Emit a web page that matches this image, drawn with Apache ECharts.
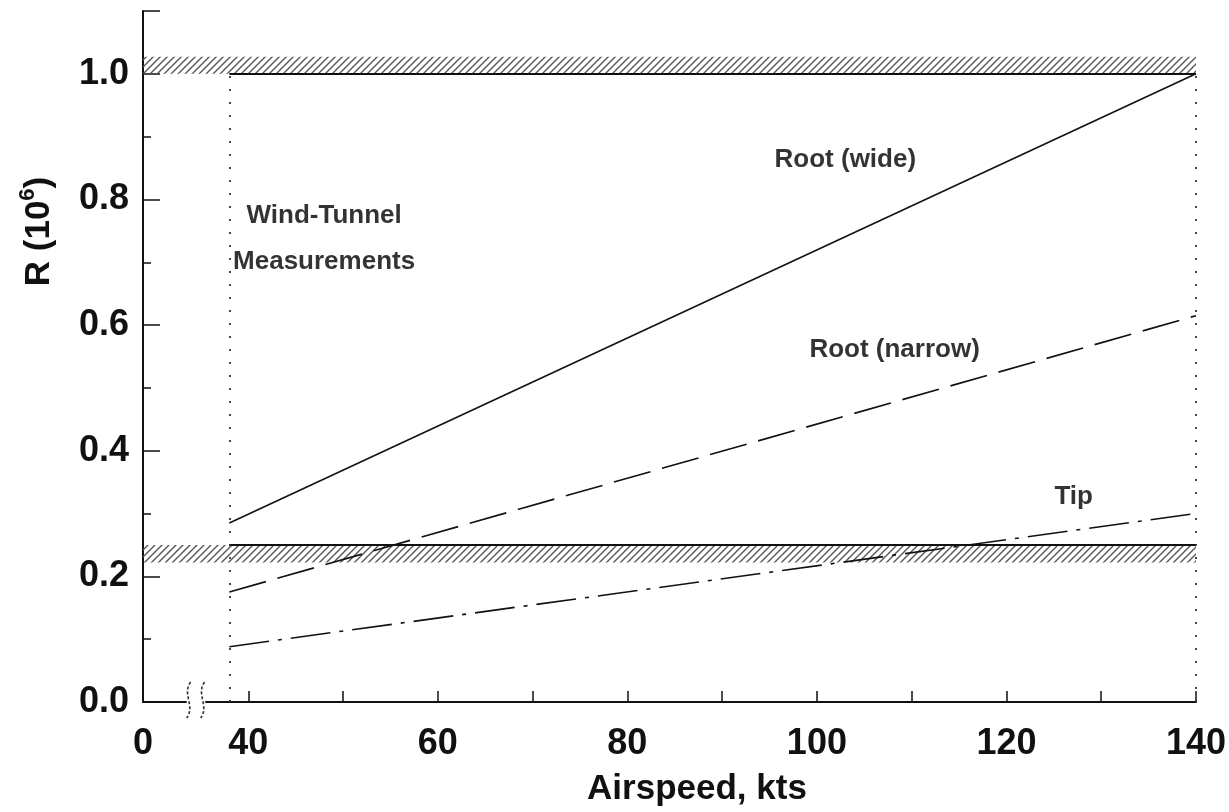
<!DOCTYPE html>
<html>
<head>
<meta charset="utf-8">
<script src="https://cdn.jsdelivr.net/npm/echarts@6/dist/echarts.min.js"></script>
<style>
html,body{margin:0;padding:0;background:#fff;}
#chart{width:1229px;height:812px;}
</style>
</head>
<body>
<div id="chart"></div>
<script>
// ---- data ----
const xRange = [38, 140];                 // wind-tunnel measurement range (kts)
const rootWide = [0.285, 1.0];            // R (10^6) at xRange ends
const rootNarrow = [0.175, 0.615];
const tip = [0.088, 0.30];
const upperLimit = 1.0;
const upperBand = [1.0, 1.027];
const lowerLimit = 0.25;
const lowerBand = [0.222, 0.25];
const xTicks = [0, 40, 60, 80, 100, 120, 140];
const xMinorTicks = [50, 70, 90, 110, 130];
const yTicks = [0.0, 0.2, 0.4, 0.6, 0.8, 1.0];
const annotations = [
  { name: 'Wind-Tunnel\nMeasurements', x: 48, y: 0.738 },
  { name: 'Root (wide)', x: 103, y: 0.863 },
  { name: 'Root (narrow)', x: 108.2, y: 0.56 },
  { name: 'Tip', x: 127.1, y: 0.326 }
];

function hatch() {
  const c = document.createElement('canvas');
  c.width = 7; c.height = 7;
  const g = c.getContext('2d');
  g.strokeStyle = '#555';
  g.lineWidth = 1.4;
  g.beginPath();
  g.moveTo(-1, 8); g.lineTo(8, -1);
  g.moveTo(-1, 1); g.lineTo(1, -1);
  g.moveTo(6, 8); g.lineTo(8, 6);
  g.stroke();
  return c;
}
const hatchColor = { image: hatch(), repeat: 'repeat' };

const FONT = 'Liberation Sans';
const chart = echarts.init(document.getElementById('chart'), null, { renderer: 'canvas' });

const lineSeries = (name, vals, type) => ({
  name, type: 'line', symbol: 'none', z: 5,
  data: [[xRange[0], vals[0]], [xRange[1], vals[1]]],
  lineStyle: { color: '#111', width: 1.6, type }
});

const option = {
  animation: false,
  backgroundColor: '#fff',
  grid: { left: 143, right: 33, top: 11, bottom: 109 },
  xAxis: {
    type: 'value', min: 0, max: 140, interval: 20,
    breaks: [{ start: 4.5, end: 35.5, gap: '1.9%' }],
    breakArea: { show: false },
    name: 'Airspeed, kts', nameLocation: 'middle', nameGap: 70,
    nameTextStyle: { fontFamily: FONT, fontSize: 35, fontWeight: 'bold', color: '#111', padding: [0, 0, 0, 55] },
    axisLine: { show: true, onZero: false, lineStyle: { color: '#111', width: 2 } },
    axisTick: { show: true, inside: true, length: 11, customValues: xTicks.concat(xMinorTicks), lineStyle: { color: '#111', width: 1.5 } },
    minorTick: { show: false },
    splitLine: { show: false },
    axisLabel: {
      fontFamily: FONT, fontSize: 36, fontWeight: 'bold', color: '#111', margin: 24,
      customValues: xTicks,
      formatter: v => (xTicks.indexOf(v) >= 0 ? String(v) : '')
    }
  },
  yAxis: {
    type: 'value', min: 0, max: 1.1, interval: 0.2,
    name: '{a|R (10}{s|6}{a|)}', nameLocation: 'middle', nameGap: 82,
    nameTextStyle: {
      padding: [0, 0, 0, 250],
      rich: {
        a: { fontFamily: FONT, fontSize: 35, fontWeight: 'bold', color: '#111', lineHeight: 44 },
        s: { fontFamily: FONT, fontSize: 22, fontWeight: 'bold', color: '#111', verticalAlign: 'top', lineHeight: 44, padding: [0, 0, 14, 0] }
      }
    },
    axisLine: { show: true, lineStyle: { color: '#111', width: 2 } },
    axisTick: { show: true, inside: true, length: 17, lineStyle: { color: '#111', width: 1.5 } },
    minorTick: { show: true, splitNumber: 2, length: 8, lineStyle: { color: '#111', width: 1.5 } },
    splitLine: { show: false },
    axisLabel: {
      fontFamily: FONT, fontSize: 36, fontWeight: 'bold', color: '#111', margin: 14,
      formatter: v => (yTicks.some(t => Math.abs(t - v) < 1e-9) ? v.toFixed(1) : '')
    }
  },
  series: [
    {
      name: 'bands', type: 'line', data: [], symbol: 'none', z: 2,
      markArea: {
        silent: true,
        itemStyle: { color: hatchColor },
        data: [
          [{ coord: [0, upperBand[0]] }, { coord: [xRange[1], upperBand[1]] }],
          [{ coord: [0, lowerBand[0]] }, { coord: [xRange[1], lowerBand[1]] }]
        ]
      }
    },
    {
      name: 'limits', type: 'line', data: [], symbol: 'none', z: 4,
      markLine: {
        silent: true, symbol: 'none', label: { show: false },
        data: [
          [{ coord: [xRange[0], upperLimit], lineStyle: { type: 'solid', width: 1.8, color: '#111' } }, { coord: [xRange[1], upperLimit] }],
          [{ coord: [xRange[0], lowerLimit], lineStyle: { type: 'solid', width: 1.8, color: '#111' } }, { coord: [xRange[1], lowerLimit] }],
          [{ coord: [xRange[0], 0], lineStyle: { type: [2, 11], width: 1.8, color: '#333' } }, { coord: [xRange[0], upperLimit] }],
          [{ coord: [xRange[1], 0], lineStyle: { type: [2, 11], width: 1.8, color: '#333' } }, { coord: [xRange[1], upperLimit] }]
        ]
      }
    },
    lineSeries('Root (wide)', rootWide, 'solid'),
    lineSeries('Root (narrow)', rootNarrow, [38, 12]),
    lineSeries('Tip', tip, [40, 9, 4, 9]),
    {
      name: 'labels', type: 'scatter', symbolSize: 0, z: 6,
      data: annotations.map(a => ({ name: a.name, value: [a.x, a.y] })),
      label: {
        show: true, position: 'inside', formatter: p => p.name,
        fontFamily: FONT, fontSize: 26, fontWeight: 'bold', color: '#000', lineHeight: 46, align: 'center'
      }
    }
  ]
};
chart.setOption(option);

// axis-break marks on the x axis line
const bx = chart.convertToPixel({ xAxisIndex: 0 }, 20);
const by = chart.convertToPixel({ yAxisIndex: 0 }, 0);
const mark = dx => ({
  type: 'bezierCurve',
  shape: { x1: bx + dx + 2, y1: by - 20, cpx1: bx + dx - 7, cpy1: by - 8, cpx2: bx + dx + 7, cpy2: by + 4, x2: bx + dx - 2, y2: by + 16 },
  style: { stroke: '#333', lineWidth: 1.6, fill: null, lineDash: [3, 2] },
  z: 20
});
chart.setOption({
  graphic: [
    { type: 'rect', shape: { x: bx - 7, y: by - 3, width: 14, height: 6 }, style: { fill: '#fff' }, z: 19 },
    mark(-7), mark(7)
  ]
});
</script>
</body>
</html>
